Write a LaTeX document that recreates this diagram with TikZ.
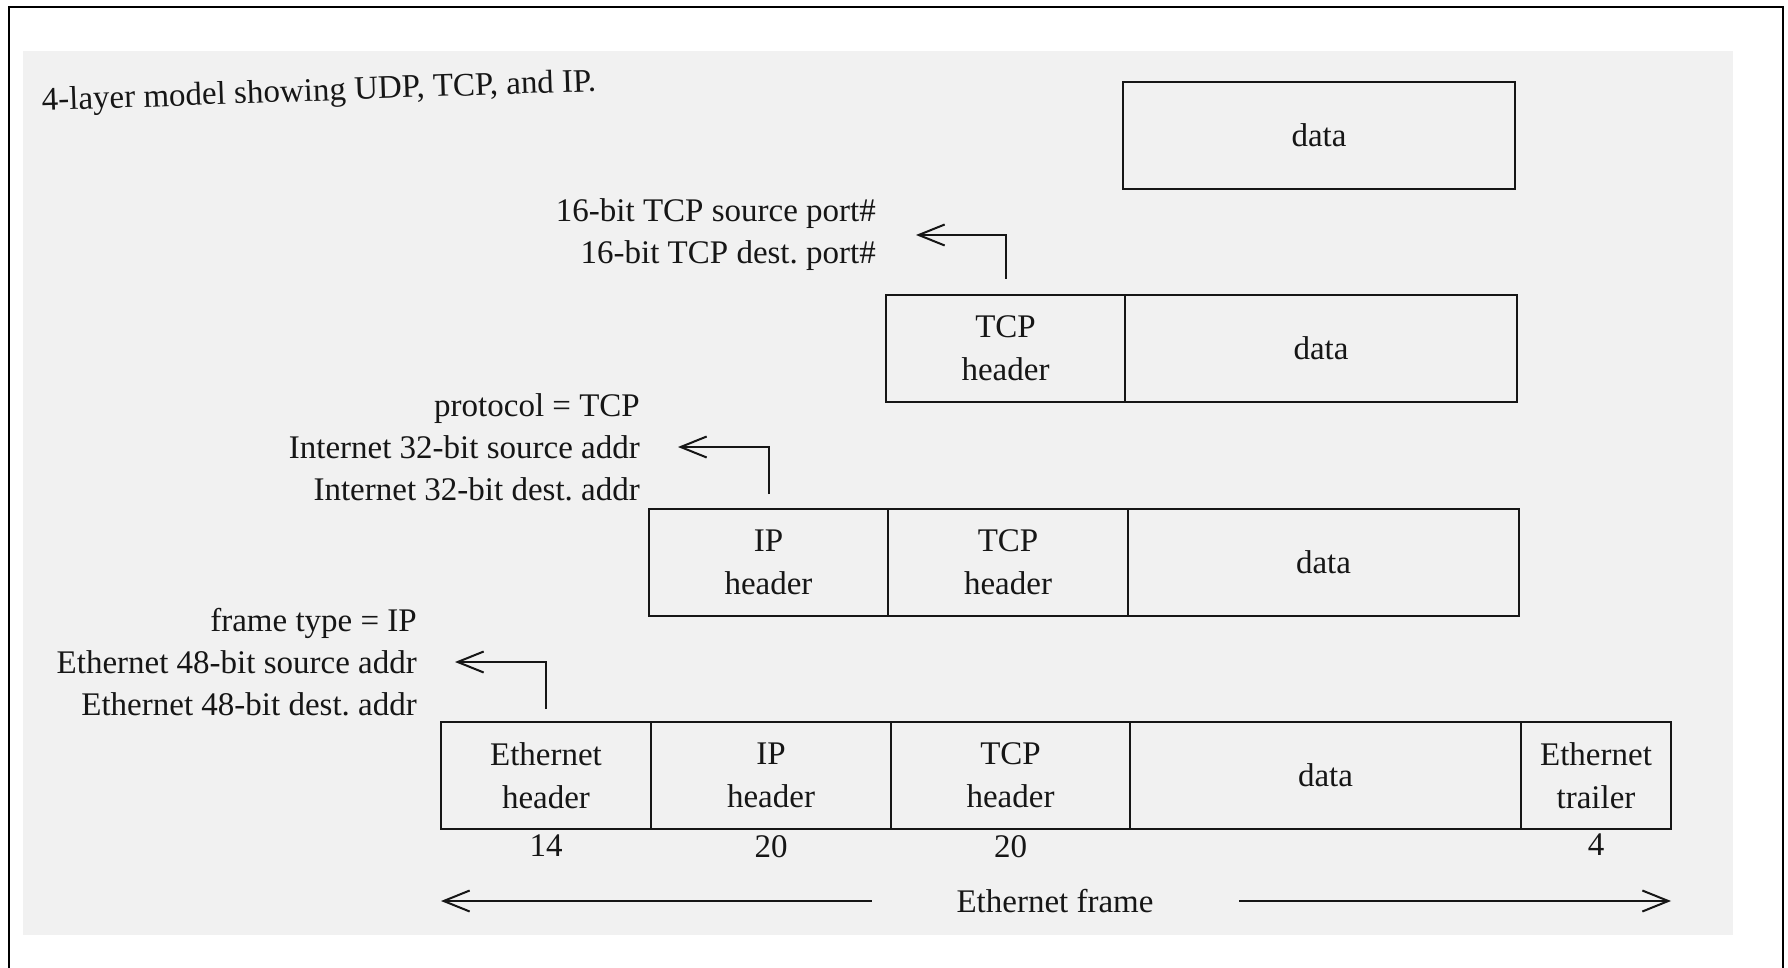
\documentclass[tikz,border=0pt]{standalone}
\usepackage{fontspec}
\setmainfont{Liberation Serif}
\usetikzlibrary{arrows.meta}
\definecolor{ink}{HTML}{161616}
\definecolor{paper}{HTML}{F1F1F1}
\frenchspacing
\begin{document}
\begin{tikzpicture}[x=1pt,y=-1pt,
  every node/.style={text=ink, font=\fontsize{33}{43}\selectfont},
  cell/.style={draw=ink, line width=2.8pt, minimum height=107pt,
    inner sep=0pt, outer sep=0pt, align=center, anchor=north west},
  lbl/.style={align=right, inner sep=0pt, anchor=east,
    font=\fontsize{33}{42}\selectfont},
  num/.style={inner sep=0pt, anchor=north},
  conn/.style={draw=ink, line width=2pt,
    -{Straight Barb[length=26pt,width=21pt]}}]
\useasboundingbox (0,0) rectangle (1788,968);
% page and scanned sheet
\fill[paper] (23,51) rectangle (1733,935);
\draw[line width=2pt] (9,968) -- (9,7) -- (1783,7) -- (1783,968);

% title
\node[rotate=2] (title) at (319,93) {4-layer model showing UDP, TCP, and IP.};

% application data
\node[cell, minimum width=392pt] (dataA) at (1123,82) {data};

% TCP segment
\node[cell, minimum width=239pt] (tcpB) at (886,295) {TCP\\header};
\node[cell, minimum width=392pt] (dataB) at (1125,295) {data};

% IP datagram
\node[cell, minimum width=239pt] (ipC) at (649,509) {IP\\header};
\node[cell, minimum width=240pt] (tcpC) at (888,509) {TCP\\header};
\node[cell, minimum width=391pt] (dataC) at (1128,509) {data};

% Ethernet frame
\node[cell, minimum width=210pt] (ethD) at (441,722) {Ethernet\\header};
\node[cell, minimum width=240pt] (ipD) at (651,722) {IP\\header};
\node[cell, minimum width=239pt] (tcpD) at (891,722) {TCP\\header};
\node[cell, minimum width=391pt] (dataD) at (1130,722) {data};
\node[cell, minimum width=150pt] (trlD) at (1521,722) {Ethernet\\trailer};

% header field labels
\node[lbl] (tcpL) at (876,235) {16-bit TCP source port\#\\16-bit TCP dest. port\#};
\node[lbl] (ipL) at (640,447) {protocol = TCP\\Internet 32-bit source addr\\Internet 32-bit dest. addr};
\node[lbl] (ethL) at (417,662) {frame type = IP\\Ethernet 48-bit source addr\\Ethernet 48-bit dest. addr};

\draw[conn] ([yshift=16pt]tcpB.north) |- ([xshift=40pt]tcpL.east);
\draw[conn] ([yshift=15pt]ipC.north) |- ([xshift=38pt]ipL.east);
\draw[conn] ([yshift=13pt]ethD.north) |- ([xshift=38pt]ethL.east);

% field sizes
\node[num] (n14) at ([yshift=-6pt]ethD.south) {14};
\node[num] (n20a) at ([yshift=-6pt]ipD.south) {20};
\node[num] (n20b) at ([yshift=-6pt]tcpD.south) {20};
\node[num] (n4) at ([yshift=-5pt]trlD.south) {4};

% frame extent
\node (frameL) at (1055,901) {Ethernet frame};
\draw[conn] ([xshift=-81pt]frameL.west) -- (frameL.west -| ethD.west);
\draw[conn] ([xshift=82pt]frameL.east) -- (frameL.east -| trlD.east);
\end{tikzpicture}
\end{document}
